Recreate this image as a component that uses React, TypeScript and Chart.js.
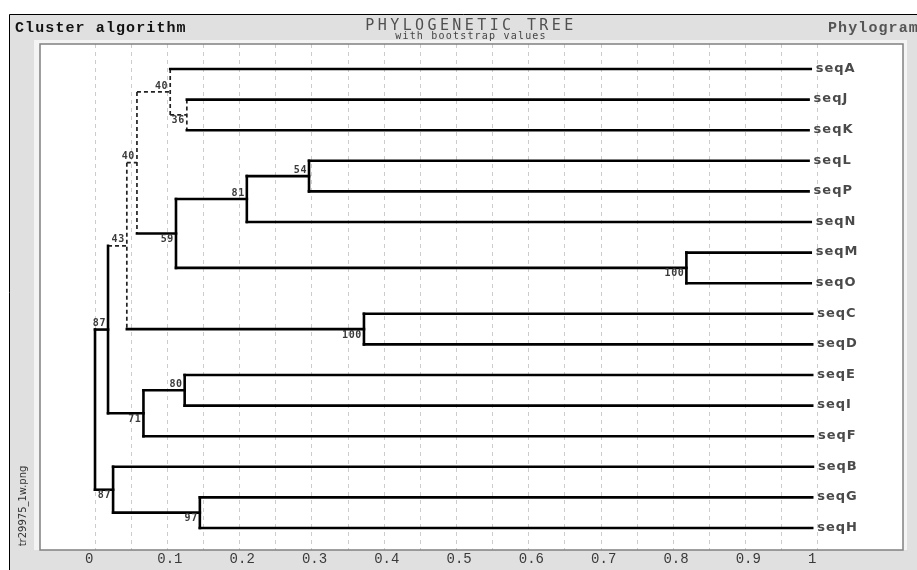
import React, { useEffect, useRef } from 'react';
import { Chart, registerables } from 'chart.js';

Chart.register(...registerables);

// ---- Data ----
const leafNames = ['seqA', 'seqJ', 'seqK', 'seqL', 'seqP', 'seqN', 'seqM', 'seqO', 'seqC', 'seqD', 'seqE', 'seqI', 'seqF', 'seqB', 'seqG', 'seqH'];
const leafParents = ['n170', 'nJK', 'nJK', 'nLP', 'nLP', 'n247', 'nMO', 'nMO', 'nCD', 'nCD', 'nEI', 'nEI', 'n143', 'nBGH', 'nGH', 'nGH'];
const leafDepths = [0.99, 0.987, 0.987, 0.987, 0.987, 0.99, 0.99, 0.99, 0.992, 0.992, 0.992, 0.992, 0.993, 0.993, 0.992, 0.992];

const nodeNames = ['root', 'nX', 'n127', 'n137', 'n170', 'nJK', 'n176', 'n247', 'nLP', 'nMO', 'nCD', 'n143', 'nEI', 'nBGH', 'nGH'];
const nodeParents: (string | null)[] = [null, 'root', 'nX', 'n127', 'n137', 'n170', 'n137', 'n176', 'n247', 'n176', 'n127', 'nX', 'n143', 'root', 'nBGH'];
const nodeDepths = [0, 0.018, 0.044, 0.058, 0.104, 0.127, 0.112, 0.21, 0.296, 0.818, 0.372, 0.067, 0.124, 0.025, 0.145];
const nodeBootstrap: (number | null)[] = [null, 87, 43, 40, 40, 36, 59, 81, 54, 100, 100, 71, 80, 87, 97];

const xGridValues = [0, 0.05, 0.1, 0.15, 0.2, 0.25, 0.3, 0.35, 0.4, 0.45, 0.5, 0.55, 0.6, 0.65, 0.7, 0.75, 0.8, 0.85, 0.9, 0.95, 1];
const xTickValues = [0, 0.1, 0.2, 0.3, 0.4, 0.5, 0.6, 0.7, 0.8, 0.9, 1];
const xTickLabels = ['0', '0.1', '0.2', '0.3', '0.4', '0.5', '0.6', '0.7', '0.8', '0.9', '1'];

const titleLeft = 'Cluster algorithm';
const titleMain = 'PHYLOGENETIC TREE';
const titleSub = 'with bootstrap values';
const titleRight = 'Phylogram';
const sideNote = 'tr29975_1w.png';

type NodeInfo = { x: number; y: number; parent: string | null; bs: number | null; leaf: boolean };

function buildTree() {
  const pos = new Map<string, NodeInfo>();
  leafNames.forEach((n, i) => pos.set(n, { x: leafDepths[i], y: i, parent: leafParents[i], bs: null, leaf: true }));
  nodeNames.forEach((n, i) => pos.set(n, { x: nodeDepths[i], y: NaN, parent: nodeParents[i], bs: nodeBootstrap[i], leaf: false }));
  const children = new Map<string, string[]>();
  pos.forEach((p, name) => {
    if (p.parent) {
      if (!children.has(p.parent)) children.set(p.parent, []);
      children.get(p.parent)!.push(name);
    }
  });
  const getY = (name: string): number => {
    const p = pos.get(name)!;
    if (!isNaN(p.y)) return p.y;
    const ys = children.get(name)!.map(getY);
    p.y = (Math.min(...ys) + Math.max(...ys)) / 2;
    return p.y;
  };
  nodeNames.forEach(getY);
  return { pos, children };
}

export default function App() {
  const ref = useRef<HTMLCanvasElement>(null);

  useEffect(() => {
    const { pos, children } = buildTree();
    const solid: any[] = [];
    const dashed: any[] = [];
    pos.forEach((p, name) => {
      const isDashed = p.bs !== null && p.bs < 50;
      const target = isDashed ? dashed : solid;
      if (p.parent) {
        const par = pos.get(p.parent)!;
        target.push([{ x: par.x, y: p.y }, { x: p.x, y: p.y }]);
      }
      if (!p.leaf) {
        const ys = children.get(name)!.map((c) => pos.get(c)!.y);
        target.push([{ x: p.x, y: Math.min(...ys) }, { x: p.x, y: Math.max(...ys) }]);
      }
    });

    const datasets = [
      ...solid.map((pts) => ({
        data: pts,
        showLine: true,
        borderColor: '#000',
        borderWidth: 2.6,
        borderCapStyle: 'square' as const,
        pointRadius: 0,
        pointHoverRadius: 0,
      })),
      ...dashed.map((pts) => ({
        data: pts,
        showLine: true,
        borderColor: '#222',
        borderWidth: 1.7,
        borderDash: [4, 3],
        borderCapStyle: 'butt' as const,
        pointRadius: 0,
        pointHoverRadius: 0,
      })),
    ];

    const framePlugin = {
      id: 'frame',
      beforeDraw(chart: any) {
        const { ctx, chartArea: a, width, height } = chart;
        ctx.save();
        ctx.fillStyle = '#ffffff';
        ctx.fillRect(0, 0, width, height);
        ctx.fillStyle = '#e0e0e0';
        ctx.fillRect(10, 15, width - 10, height - 15);
        ctx.strokeStyle = '#000';
        ctx.lineWidth = 1;
        ctx.beginPath();
        ctx.moveTo(9.5, height);
        ctx.lineTo(9.5, 14.5);
        ctx.lineTo(width, 14.5);
        ctx.stroke();
        // light bevel behind plot box
        ctx.fillStyle = '#f4f4f4';
        ctx.fillRect(a.left - 6, a.top - 4, a.right - a.left + 10, a.bottom - a.top + 4);
        ctx.fillStyle = '#ffffff';
        ctx.fillRect(a.left, a.top, a.right - a.left, a.bottom - a.top);

        // titles
        ctx.textBaseline = 'alphabetic';
        (ctx as any).letterSpacing = '1.1px';
        ctx.font = 'bold 15px "Liberation Mono"';
        ctx.fillStyle = '#111';
        ctx.textAlign = 'left';
        ctx.fillText(titleLeft, 15, 32);
        ctx.fillStyle = '#555';
        ctx.fillText(titleRight, 828, 32);

        (ctx as any).letterSpacing = '3.4px';
        ctx.font = '15px "DejaVu Sans Mono"';
        ctx.fillStyle = '#505050';
        ctx.textAlign = 'center';
        ctx.fillText(titleMain, 471, 30);

        (ctx as any).letterSpacing = '1.2px';
        ctx.font = '10px "DejaVu Sans Mono"';
        ctx.fillStyle = '#444';
        ctx.fillText(titleSub, 471, 39);
        (ctx as any).letterSpacing = '0px';

        // rotated side note
        ctx.save();
        ctx.translate(26, 506);
        ctx.rotate(-Math.PI / 2);
        ctx.font = '10px "DejaVu Sans"';
        ctx.fillStyle = '#333';
        ctx.textAlign = 'center';
        ctx.fillText(sideNote, 0, 0);
        ctx.restore();
        ctx.restore();
      },
      afterDatasetsDraw(chart: any) {
        const { ctx, chartArea: a } = chart;
        const xs = chart.scales.x;
        const ys = chart.scales.y;
        ctx.save();
        // leaf labels
        (ctx as any).letterSpacing = '1px';
        ctx.font = 'bold 13px "DejaVu Sans"';
        ctx.fillStyle = '#4a4a4a';
        ctx.textAlign = 'left';
        ctx.textBaseline = 'middle';
        leafNames.forEach((n) => {
          const p = pos.get(n)!;
          ctx.fillText(n, xs.getPixelForValue(p.x) + 5, ys.getPixelForValue(p.y) - 0.5);
        });
        // bootstrap labels
        (ctx as any).letterSpacing = '0.6px';
        ctx.font = 'bold 10px "DejaVu Sans Mono"';
        ctx.fillStyle = '#3a3a3a';
        ctx.textAlign = 'right';
        nodeNames.forEach((n) => {
          const p = pos.get(n)!;
          if (p.bs === null || !p.parent) return;
          const par = pos.get(p.parent)!;
          const above = p.y < par.y;
          const px = xs.getPixelForValue(p.x) - 2;
          const py = ys.getPixelForValue(p.y) + (above ? -6 : 6);
          ctx.fillText(String(p.bs), px, py);
        });
        (ctx as any).letterSpacing = '0px';
        // plot border
        ctx.strokeStyle = '#808080';
        ctx.lineWidth = 1.5;
        ctx.strokeRect(a.left, a.top, a.right - a.left, a.bottom - a.top);
        ctx.restore();
      },
    };

    const chart = new Chart(ref.current!, {
      type: 'scatter',
      data: { datasets },
      options: {
        responsive: false,
        animation: false,
        devicePixelRatio: 1,
        events: [],
        layout: { padding: { left: 40, right: 14, top: 44, bottom: 0 } },
        plugins: { legend: { display: false }, tooltip: { enabled: false }, title: { display: false } },
        scales: {
          x: {
            type: 'linear',
            min: -0.0761,
            max: 1.1176,
            afterBuildTicks: (scale: any) => {
              scale.ticks = xGridValues.map((v) => ({ value: v }));
            },
            afterFit: (scale: any) => {
              scale.height = 20;
            },
            grid: { color: '#cccccc', lineWidth: 1, drawTicks: false },
            border: { display: false, dash: [4, 4] },
            ticks: {
              autoSkip: false,
              maxRotation: 0,
              minRotation: 0,
              align: 'start',
              labelOffset: -10,
              padding: 1,
              color: '#3a3a3a',
              font: { family: 'Liberation Mono', size: 14 },
              callback: (value: any) => {
                const i = xTickValues.findIndex((t) => Math.abs(t - Number(value)) < 1e-9);
                return i >= 0 ? xTickLabels[i] : '';
              },
            },
          },
          y: {
            type: 'linear',
            display: false,
            reverse: true,
            min: -0.817,
            max: 15.72,
            grid: { display: false },
          },
        },
      },
      plugins: [framePlugin],
    } as any);

    return () => chart.destroy();
  }, []);

  return (
    <div style={{ position: 'absolute', left: 0, top: 0, width: 917, height: 570 }}>
      <canvas ref={ref} width={917} height={570} style={{ display: 'block', width: 917, height: 570 }} />
    </div>
  );
}
